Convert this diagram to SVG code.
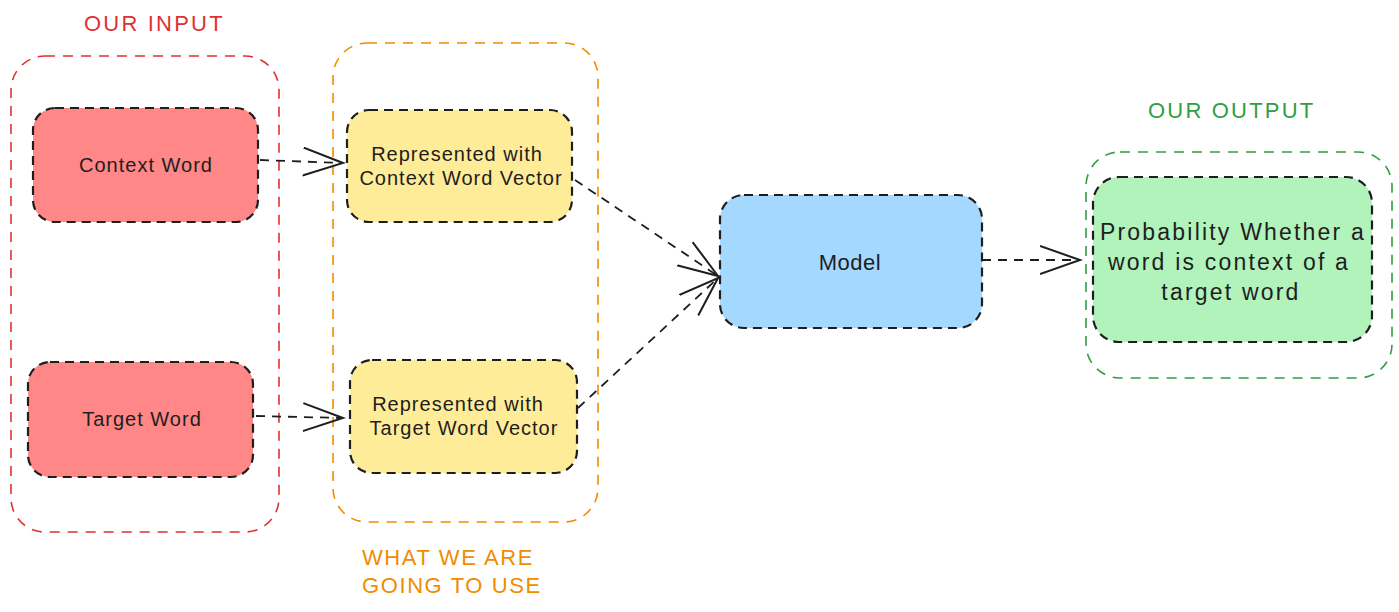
<svg xmlns="http://www.w3.org/2000/svg" width="1399" height="612" viewBox="0 0 1399 612">
<style>
.bg{fill:#ffffff}
.cont{fill:none;stroke-width:1.6;stroke-dasharray:10 8}
.node{stroke:#1e1e1e;stroke-width:2.2;stroke-dasharray:9 6}
.lbl{font-family:"Liberation Sans","DejaVu Sans",sans-serif;fill:#1e1e1e;text-anchor:middle}
.sm{font-size:20px;letter-spacing:1px}
.big{font-size:23px;letter-spacing:2.2px}
.head{font-family:"Liberation Sans","DejaVu Sans",sans-serif;font-size:22px;letter-spacing:2.2px}
.conn{fill:none;stroke:#1e1e1e;stroke-width:1.8;stroke-dasharray:9 7}
</style>
<defs>
<marker id="arr" markerWidth="44" markerHeight="34" refX="40" refY="15" orient="auto" markerUnits="userSpaceOnUse">
<path d="M0,1 L40,15 L0,29" fill="none" stroke="#1e1e1e" stroke-width="2" stroke-dasharray="none"/>
</marker>
</defs>
<rect class="bg" x="0" y="0" width="1399" height="612"/>

<g id="group-input">
<rect class="cont" x="11" y="56" width="268" height="476" rx="34" stroke="#e03131"/>
<text class="head" x="84" y="31" fill="#e03131">OUR INPUT</text>
</g>
<g id="group-use">
<rect class="cont" x="333" y="43" width="265" height="479" rx="34" stroke="#f08c00"/>
<text class="head" x="362" y="565" fill="#f08c00" font-size="21" style="letter-spacing:1.6px">WHAT WE ARE</text>
<text class="head" x="362" y="593" fill="#f08c00" font-size="21" style="letter-spacing:1.6px">GOING TO USE</text>
</g>
<g id="group-output">
<rect class="cont" x="1086" y="152" width="306" height="226" rx="34" stroke="#2f9e44"/>
<text class="head" x="1148" y="118" fill="#2f9e44">OUR OUTPUT</text>
</g>

<g id="connectors">
<path class="conn" d="M260,160 L343,163" marker-end="url(#arr)"/>
<path class="conn" d="M256,416 L343,418" marker-end="url(#arr)"/>
<path class="conn" d="M575,180 L718,276" marker-end="url(#arr)"/>
<path class="conn" d="M578,408 L718,278" marker-end="url(#arr)"/>
<path class="conn" d="M982,260 L1080,260" marker-end="url(#arr)"/>
</g>

<g id="node-context-word">
<rect class="node" x="33" y="108" width="225" height="114" rx="22" fill="#ff8787"/>
<text class="lbl sm" x="146" y="172">Context Word</text>
</g>
<g id="node-target-word">
<rect class="node" x="28" y="362" width="225" height="115" rx="22" fill="#ff8787"/>
<text class="lbl sm" x="142" y="426">Target Word</text>
</g>
<g id="node-context-vector">
<rect class="node" x="347" y="110" width="225" height="112" rx="22" fill="#ffec99"/>
<text class="lbl sm" x="457" y="161">Represented with</text>
<text class="lbl sm" x="461" y="185">Context Word Vector</text>
</g>
<g id="node-target-vector">
<rect class="node" x="350" y="360" width="227" height="113" rx="22" fill="#ffec99"/>
<text class="lbl sm" x="458" y="411">Represented with</text>
<text class="lbl sm" x="464" y="435">Target Word Vector</text>
</g>
<g id="node-model">
<rect class="node" x="720" y="195" width="262" height="133" rx="24" fill="#a5d8ff"/>
<text class="lbl" x="850" y="270" font-size="22" letter-spacing="0.5">Model</text>
</g>
<g id="node-probability">
<rect class="node" x="1093" y="177" width="279" height="165" rx="26" fill="#b2f2bb"/>
<text class="lbl big" x="1233" y="240">Probability Whether a</text>
<text class="lbl big" x="1229" y="270">word is context of a</text>
<text class="lbl big" x="1231" y="300">target word</text>
</g>
</svg>
